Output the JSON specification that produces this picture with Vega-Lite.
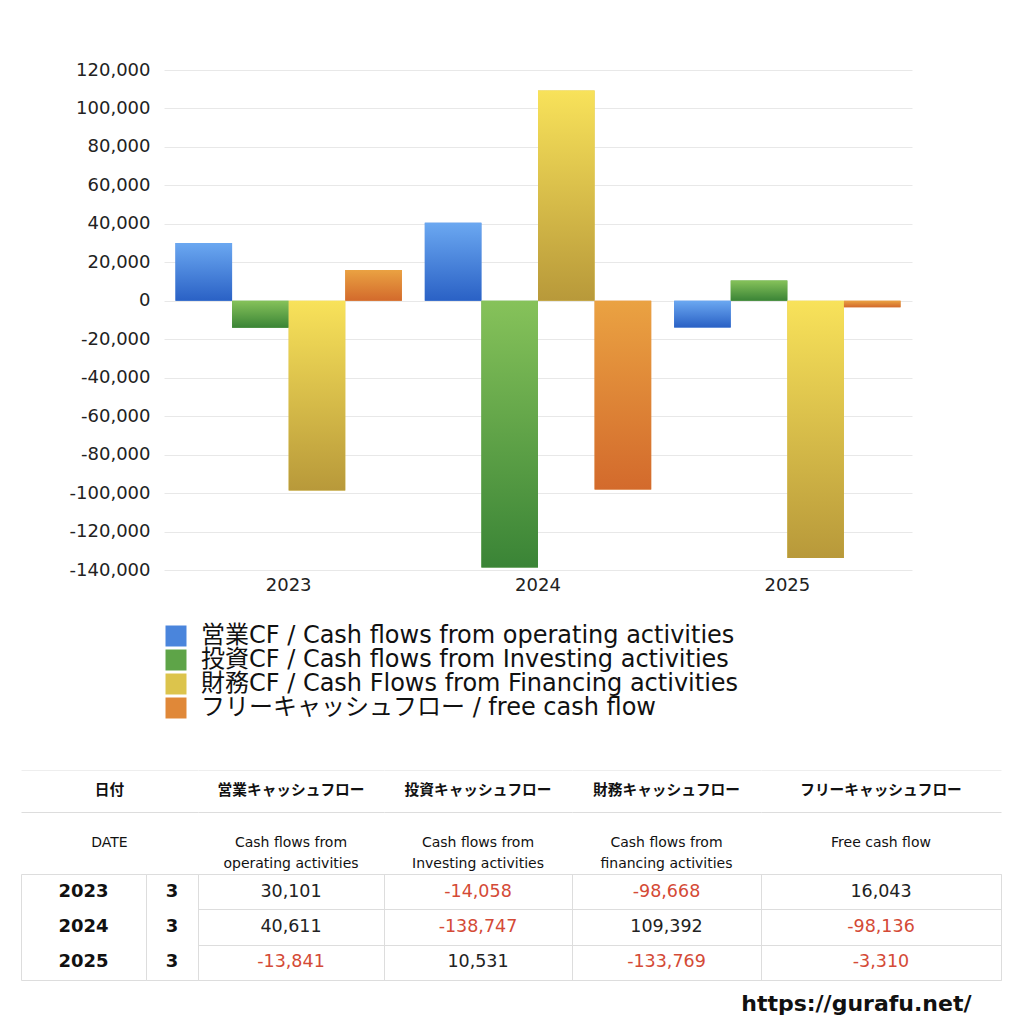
{
  "$schema": "https://vega.github.io/schema/vega-lite/v6.json",
  "padding": {"left": 20, "top": 61, "right": 0, "bottom": 0},
  "background": "#ffffff",
  "config": {
    "font": "Noto Sans CJK JP",
    "locale": {"number": {"decimal": ".", "thousands": ",", "grouping": [3], "currency": ["$", ""], "minus": "-"}},
    "view": {"stroke": "#dddddd"},
    "concat": {"spacing": 0}
  },
  "title": {"text": "https://gurafu.net/", "orient": "bottom", "anchor": "end", "font": "DejaVu Sans", "fontSize": 22, "fontWeight": "bold", "color": "#111111", "offset": 13, "dx": -30},
  "datasets": {
    "cf": [
      {"year": "2023", "key": "op", "label": "営業CF / Cash flows from operating activities", "value": 30101},
      {"year": "2023", "key": "inv", "label": "投資CF / Cash flows from Investing activities", "value": -14058},
      {"year": "2023", "key": "fin", "label": "財務CF / Cash Flows from Financing activities", "value": -98668},
      {"year": "2023", "key": "fcf", "label": "フリーキャッシュフロー / free cash flow", "value": 16043},
      {"year": "2024", "key": "op", "label": "営業CF / Cash flows from operating activities", "value": 40611},
      {"year": "2024", "key": "inv", "label": "投資CF / Cash flows from Investing activities", "value": -138747},
      {"year": "2024", "key": "fin", "label": "財務CF / Cash Flows from Financing activities", "value": 109392},
      {"year": "2024", "key": "fcf", "label": "フリーキャッシュフロー / free cash flow", "value": -98136},
      {"year": "2025", "key": "op", "label": "営業CF / Cash flows from operating activities", "value": -13841},
      {"year": "2025", "key": "inv", "label": "投資CF / Cash flows from Investing activities", "value": 10531},
      {"year": "2025", "key": "fin", "label": "財務CF / Cash Flows from Financing activities", "value": -133769},
      {"year": "2025", "key": "fcf", "label": "フリーキャッシュフロー / free cash flow", "value": -3310}
    ],
    "years": [
      {"year": "2023", "month": 3},
      {"year": "2024", "month": 3},
      {"year": "2025", "month": 3}
    ],
    "headers": [
      {"col": "date", "jp": "日付", "en": "DATE"},
      {"col": "op", "jp": "営業キャッシュフロー", "en": ["Cash flows from", "operating activities"]},
      {"col": "inv", "jp": "投資キャッシュフロー", "en": ["Cash flows from", "Investing activities"]},
      {"col": "fin", "jp": "財務キャッシュフロー", "en": ["Cash flows from", "financing activities"]},
      {"col": "fcf", "jp": "フリーキャッシュフロー", "en": "Free cash flow"}
    ]
  },
  "spacing": 50,
  "resolve": {"scale": {"color": "independent"}, "legend": {"color": "independent"}},
  "vconcat": [
    {
      "spacing": 0,
      "resolve": {"scale": {"color": "independent"}, "legend": {"color": "independent"}},
      "hconcat": [
        {
          "width": 48,
          "height": 500,
          "data": {"values": []},
          "view": {"stroke": null, "fill": "#ffffff"},
          "mark": {"type": "text"}
        },
        {
          "width": 748,
          "height": 500,
          "data": {"name": "cf"},
          "view": {"stroke": null},
          "encoding": {
            "x": {"field": "year", "type": "nominal", "scale": {"paddingInner": 0.092, "paddingOuter": 0.046},
                  "axis": {"labelAngle": 0, "title": null, "ticks": false, "domain": false, "labelFont": "DejaVu Sans", "labelFontSize": 18, "labelPadding": 6, "labelColor": "#222222", "grid": false}},
            "xOffset": {"field": "key", "type": "nominal", "scale": {"domain": ["op", "inv", "fin", "fcf"], "paddingInner": 0, "paddingOuter": 0}},
            "y": {"field": "value", "type": "quantitative", "scale": {"domain": [-140000, 120000], "nice": false, "zero": false},
                  "axis": {"values": [-140000, -120000, -100000, -80000, -60000, -40000, -20000, 0, 20000, 40000, 60000, 80000, 100000, 120000],
                           "format": ",.0f", "ticks": false, "domain": false, "labelFont": "DejaVu Sans", "labelFontSize": 18, "labelPadding": 14, "labelColor": "#222222",
                           "gridColor": "#e8e8e8", "title": null}}
          },
          "layer": [
            {
              "mark": {"type": "bar"},
              "encoding": {
                "color": {"field": "label", "type": "nominal",
                          "scale": {
                            "domain": ["営業CF / Cash flows from operating activities", "投資CF / Cash flows from Investing activities", "財務CF / Cash Flows from Financing activities", "フリーキャッシュフロー / free cash flow"],
                            "range": ["#4a85dc", "#5ea448", "#dcc44c", "#e08838"]
                          },
                          "legend": {"orient": "bottom", "direction": "vertical", "title": null, "symbolType": "square", "symbolSize": 441, "symbolStrokeWidth": 0, "symbolOpacity": 1,
                                     "labelFont": "DejaVu Sans, Noto Sans CJK JP", "labelFontSize": 24, "labelColor": "#111111", "rowPadding": -1, "labelOffset": 13, "offset": 30, "padding": 0, "labelLimit": 0}}
              }
            },
            {
              "transform": [{"filter": "datum.key === 'op'"}],
              "mark": {"type": "bar", "color": {"gradient": "linear", "x1": 0, "y1": 0, "x2": 0, "y2": 1, "stops": [{"offset": 0, "color": "#6ba8f1"}, {"offset": 1, "color": "#2a61c5"}]}}
            },
            {
              "transform": [{"filter": "datum.key === 'inv'"}],
              "mark": {"type": "bar", "color": {"gradient": "linear", "x1": 0, "y1": 0, "x2": 0, "y2": 1, "stops": [{"offset": 0, "color": "#86c25a"}, {"offset": 1, "color": "#3a8436"}]}}
            },
            {
              "transform": [{"filter": "datum.key === 'fin'"}],
              "mark": {"type": "bar", "color": {"gradient": "linear", "x1": 0, "y1": 0, "x2": 0, "y2": 1, "stops": [{"offset": 0, "color": "#f8e25a"}, {"offset": 1, "color": "#b8993a"}]}}
            },
            {
              "transform": [{"filter": "datum.key === 'fcf'"}],
              "mark": {"type": "bar", "color": {"gradient": "linear", "x1": 0, "y1": 0, "x2": 0, "y2": 1, "stops": [{"offset": 0, "color": "#eaa242"}, {"offset": 1, "color": "#d36a2c"}]}}
            }
          ]
        }
      ]
    },
    {
      "spacing": 0,
      "vconcat": [
        {
          "spacing": 0,
          "bounds": "flush",
          "hconcat": [
            {"width": 177, "height": 42, "data": {"name": "headers"}, "transform": [{"filter": "datum.col === 'date'"}], "view": {"stroke": null},
             "mark": {"type": "text", "fontSize": 14.7, "fontWeight": "bold", "color": "#111111"},
             "encoding": {"text": {"field": "jp"}, "x": {"field": "col", "type": "nominal", "axis": {"orient": "top", "labels": false, "ticks": false, "title": null, "domainColor": "#eeeeee"}}}},
            {"width": 186, "height": 42, "data": {"name": "headers"}, "transform": [{"filter": "datum.col === 'op'"}], "view": {"stroke": null},
             "mark": {"type": "text", "fontSize": 14.7, "fontWeight": "bold", "color": "#111111"},
             "encoding": {"text": {"field": "jp"}, "x": {"field": "col", "type": "nominal", "axis": {"orient": "top", "labels": false, "ticks": false, "title": null, "domainColor": "#eeeeee"}}}},
            {"width": 188, "height": 42, "data": {"name": "headers"}, "transform": [{"filter": "datum.col === 'inv'"}], "view": {"stroke": null},
             "mark": {"type": "text", "fontSize": 14.7, "fontWeight": "bold", "color": "#111111"},
             "encoding": {"text": {"field": "jp"}, "x": {"field": "col", "type": "nominal", "axis": {"orient": "top", "labels": false, "ticks": false, "title": null, "domainColor": "#eeeeee"}}}},
            {"width": 189, "height": 42, "data": {"name": "headers"}, "transform": [{"filter": "datum.col === 'fin'"}], "view": {"stroke": null},
             "mark": {"type": "text", "fontSize": 14.7, "fontWeight": "bold", "color": "#111111"},
             "encoding": {"text": {"field": "jp"}, "x": {"field": "col", "type": "nominal", "axis": {"orient": "top", "labels": false, "ticks": false, "title": null, "domainColor": "#eeeeee"}}}},
            {"width": 240, "height": 42, "data": {"name": "headers"}, "transform": [{"filter": "datum.col === 'fcf'"}], "view": {"stroke": null},
             "mark": {"type": "text", "fontSize": 14.7, "fontWeight": "bold", "color": "#111111"},
             "encoding": {"text": {"field": "jp"}, "x": {"field": "col", "type": "nominal", "axis": {"orient": "top", "labels": false, "ticks": false, "title": null, "domainColor": "#eeeeee"}}}}
          ]
        },
        {
          "spacing": 0,
          "bounds": "flush",
          "hconcat": [
            {"width": 177, "height": 61, "data": {"name": "headers"}, "transform": [{"filter": "datum.col === 'date'"}], "view": {"stroke": null},
             "mark": {"type": "text", "font": "DejaVu Sans", "fontSize": 14, "lineHeight": 21, "color": "#111111"},
             "encoding": {"text": {"field": "en"}, "x": {"field": "col", "type": "nominal", "axis": {"orient": "top", "labels": false, "ticks": false, "title": null, "domainColor": "#dddddd"}}}},
            {"width": 186, "height": 61, "data": {"name": "headers"}, "transform": [{"filter": "datum.col === 'op'"}], "view": {"stroke": null},
             "mark": {"type": "text", "font": "DejaVu Sans", "fontSize": 14, "lineHeight": 21, "color": "#111111"},
             "encoding": {"text": {"field": "en"}, "x": {"field": "col", "type": "nominal", "axis": {"orient": "top", "labels": false, "ticks": false, "title": null, "domainColor": "#dddddd"}}}},
            {"width": 188, "height": 61, "data": {"name": "headers"}, "transform": [{"filter": "datum.col === 'inv'"}], "view": {"stroke": null},
             "mark": {"type": "text", "font": "DejaVu Sans", "fontSize": 14, "lineHeight": 21, "color": "#111111"},
             "encoding": {"text": {"field": "en"}, "x": {"field": "col", "type": "nominal", "axis": {"orient": "top", "labels": false, "ticks": false, "title": null, "domainColor": "#dddddd"}}}},
            {"width": 189, "height": 61, "data": {"name": "headers"}, "transform": [{"filter": "datum.col === 'fin'"}], "view": {"stroke": null},
             "mark": {"type": "text", "font": "DejaVu Sans", "fontSize": 14, "lineHeight": 21, "color": "#111111"},
             "encoding": {"text": {"field": "en"}, "x": {"field": "col", "type": "nominal", "axis": {"orient": "top", "labels": false, "ticks": false, "title": null, "domainColor": "#dddddd"}}}},
            {"width": 240, "height": 61, "data": {"name": "headers"}, "transform": [{"filter": "datum.col === 'fcf'"}], "view": {"stroke": null},
             "mark": {"type": "text", "font": "DejaVu Sans", "fontSize": 14, "lineHeight": 21, "color": "#111111"},
             "encoding": {"text": {"field": "en"}, "x": {"field": "col", "type": "nominal", "axis": {"orient": "top", "labels": false, "ticks": false, "title": null, "domainColor": "#dddddd"}}}}
          ]
        },
        {
          "spacing": 0,
          "bounds": "flush",
          "hconcat": [
            {"width": 125, "height": 106, "data": {"name": "years"},
             "mark": {"type": "text", "font": "DejaVu Sans", "fontSize": 18, "fontWeight": "bold", "color": "#111111"},
             "encoding": {"text": {"field": "year"}, "y": {"field": "year", "type": "nominal", "scale": {"type": "band", "paddingInner": 0, "paddingOuter": 0}, "axis": null}}},
            {"width": 52, "height": 106, "data": {"name": "years"},
             "mark": {"type": "text", "font": "DejaVu Sans", "fontSize": 18, "fontWeight": "bold", "color": "#111111"},
             "encoding": {"text": {"field": "month"}, "y": {"field": "year", "type": "nominal", "scale": {"type": "band", "paddingInner": 0, "paddingOuter": 0}, "axis": null}}},
            {"width": 186, "height": 106, "data": {"name": "cf"}, "transform": [{"filter": "datum.key === 'op'"}],
             "mark": {"type": "text", "font": "DejaVu Sans", "fontSize": 17.5},
             "encoding": {"text": {"field": "value", "format": ","},
                          "color": {"condition": {"test": "datum.value < 0", "value": "#d44a36"}, "value": "#222222"},
                          "y": {"field": "year", "type": "nominal", "scale": {"type": "band", "paddingInner": 0, "paddingOuter": 0},
                                "axis": {"grid": true, "tickBand": "extent", "labels": false, "ticks": false, "domain": false, "title": null, "gridColor": "#dddddd"}}}},
            {"width": 188, "height": 106, "data": {"name": "cf"}, "transform": [{"filter": "datum.key === 'inv'"}],
             "mark": {"type": "text", "font": "DejaVu Sans", "fontSize": 17.5},
             "encoding": {"text": {"field": "value", "format": ","},
                          "color": {"condition": {"test": "datum.value < 0", "value": "#d44a36"}, "value": "#222222"},
                          "y": {"field": "year", "type": "nominal", "scale": {"type": "band", "paddingInner": 0, "paddingOuter": 0},
                                "axis": {"grid": true, "tickBand": "extent", "labels": false, "ticks": false, "domain": false, "title": null, "gridColor": "#dddddd"}}}},
            {"width": 189, "height": 106, "data": {"name": "cf"}, "transform": [{"filter": "datum.key === 'fin'"}],
             "mark": {"type": "text", "font": "DejaVu Sans", "fontSize": 17.5},
             "encoding": {"text": {"field": "value", "format": ","},
                          "color": {"condition": {"test": "datum.value < 0", "value": "#d44a36"}, "value": "#222222"},
                          "y": {"field": "year", "type": "nominal", "scale": {"type": "band", "paddingInner": 0, "paddingOuter": 0},
                                "axis": {"grid": true, "tickBand": "extent", "labels": false, "ticks": false, "domain": false, "title": null, "gridColor": "#dddddd"}}}},
            {"width": 240, "height": 106, "data": {"name": "cf"}, "transform": [{"filter": "datum.key === 'fcf'"}],
             "mark": {"type": "text", "font": "DejaVu Sans", "fontSize": 17.5},
             "encoding": {"text": {"field": "value", "format": ","},
                          "color": {"condition": {"test": "datum.value < 0", "value": "#d44a36"}, "value": "#222222"},
                          "y": {"field": "year", "type": "nominal", "scale": {"type": "band", "paddingInner": 0, "paddingOuter": 0},
                                "axis": {"grid": true, "tickBand": "extent", "labels": false, "ticks": false, "domain": false, "title": null, "gridColor": "#dddddd"}}}}
          ]
        }
      ]
    }
  ]
}
